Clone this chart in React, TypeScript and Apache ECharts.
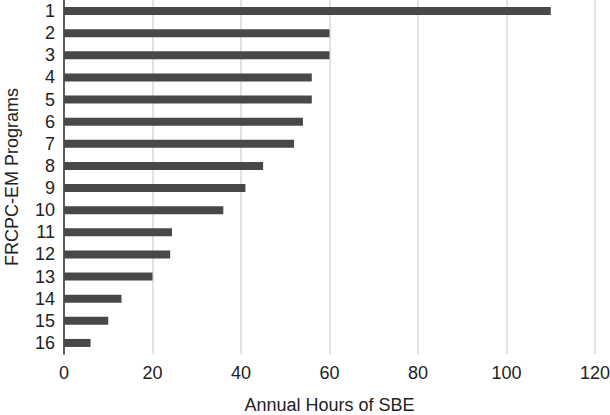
import React, { useEffect, useRef } from "react";
import * as echarts from "echarts";

const categories = ["1", "2", "3", "4", "5", "6", "7", "8", "9", "10", "11", "12", "13", "14", "15", "16"];
const hours = [110, 60, 60, 56, 56, 54, 52, 45, 41, 36, 24.4, 24, 20, 13, 10, 6];
const xTitle = "Annual Hours of SBE";
const yTitle = "FRCPC-EM Programs";

export default function App() {
  const ref = useRef<HTMLDivElement>(null);
  useEffect(() => {
    if (!ref.current) return;
    const chart = echarts.init(ref.current, undefined, { renderer: "svg" });
    const font = "'Liberation Sans', Arial, Helvetica, sans-serif";
    chart.setOption({
      animation: false,
      backgroundColor: "#ffffff",
      grid: { left: 64, right: 15, top: 0, bottom: 61, containLabel: false, outerBoundsMode: "none" },
      xAxis: {
        type: "value",
        min: 0,
        max: 120,
        interval: 20,
        name: xTitle,
        nameLocation: "middle",
        nameGap: 42,
        nameTextStyle: { fontFamily: font, fontSize: 18, color: "#222" },
        axisLine: { show: false },
        axisTick: { show: false },
        axisLabel: { fontFamily: font, fontSize: 18, color: "#222", margin: 10 },
        splitLine: { show: true, lineStyle: { color: "#d9d9d9", width: 1.5 } },
      },
      yAxis: {
        type: "category",
        data: categories,
        inverse: true,
        name: yTitle,
        nameLocation: "middle",
        nameGap: 43,
        nameTextStyle: { fontFamily: font, fontSize: 18, color: "#222" },
        axisLine: { show: true, lineStyle: { color: "#333", width: 1.5 } },
        axisTick: { show: false },
        axisLabel: { fontFamily: font, fontSize: 18, color: "#222", margin: 9, interval: 0 },
        splitLine: { show: false },
      },
      series: [
        {
          type: "bar",
          data: hours,
          barWidth: 8,
          itemStyle: { color: "#484848" },
        },
      ],
    });
    return () => chart.dispose();
  }, []);
  return (
    <div
      ref={ref}
      style={{ position: "fixed", left: 0, top: 0, width: 610, height: 415 }}
    />
  );
}
